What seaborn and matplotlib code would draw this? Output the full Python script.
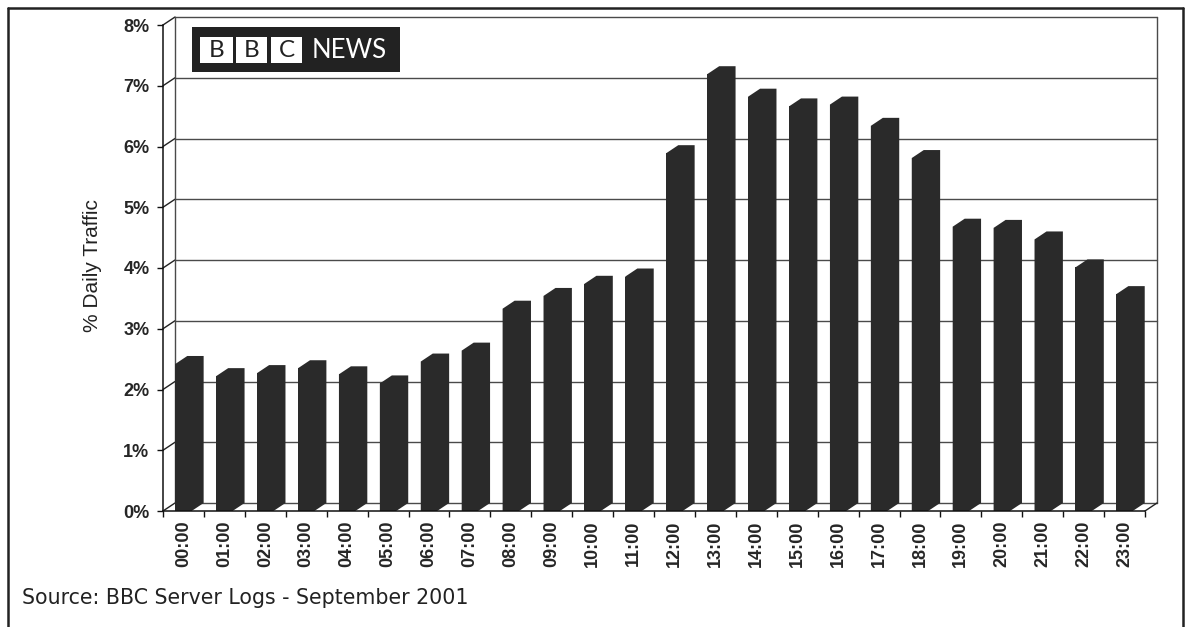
import numpy as np
import pandas as pd
import seaborn as sns
import matplotlib.pyplot as plt
from matplotlib.patches import Polygon, Rectangle
from matplotlib.lines import Line2D

# Hourly share of daily page traffic
hours = ["00:00", "01:00", "02:00", "03:00", "04:00", "05:00", "06:00", "07:00",
         "08:00", "09:00", "10:00", "11:00", "12:00", "13:00", "14:00", "15:00",
         "16:00", "17:00", "18:00", "19:00", "20:00", "21:00", "22:00", "23:00"]
traffic = [2.42, 2.22, 2.27, 2.35, 2.25, 2.10, 2.46, 2.64,
           3.33, 3.54, 3.74, 3.86, 5.89, 7.19, 6.82, 6.66,
           6.69, 6.34, 5.81, 4.68, 4.66, 4.47, 4.01, 3.57]
y_ticks = [0, 1, 2, 3, 4, 5, 6, 7, 8]
y_tick_labels = ["0%", "1%", "2%", "3%", "4%", "5%", "6%", "7%", "8%"]

W, H = 1185, 627
BAR = "#2a2a2a"
GRID = "#4a4a4a"

sns.set_theme(style="white")
plt.rcParams["font.family"] = ["Liberation Sans", "DejaVu Sans"]

fig = plt.figure(figsize=(W / 100, H / 100), dpi=100)
fig.patch.set_facecolor("white")


def fx(x):
    return x / W


def fy(y):
    return 1 - y / H


# front plane of the 3-D box
left_px, right_px, top_px, bottom_px = 163, 1145, 25, 511
ax = fig.add_axes([fx(left_px), fy(bottom_px), fx(right_px - left_px), (bottom_px - top_px) / H])
ax.set_facecolor("none")

df = pd.DataFrame({"hour": hours, "traffic": traffic})
sns.barplot(data=df, x="hour", y="traffic", color=BAR, width=0.4, saturation=1,
            edgecolor="none", linewidth=0, ax=ax, zorder=3)
ax.set_xlim(-0.5, 23.5)
ax.set_ylim(0, 8)

# depth offset of the box (12 px right, 8 px up) in data units
dx = 12 / ((right_px - left_px) / 24)
dy = 8 / ((bottom_px - top_px) / 8)

# back wall gridlines, side wall and floor edges
line_kw = dict(color=GRID, lw=1, clip_on=False, zorder=1)
for k in y_ticks:
    ax.plot([-0.5 + dx, 23.5 + dx], [k + dy, k + dy], **line_kw)
    ax.plot([-0.5, -0.5 + dx], [k, k + dy], color="#222222", lw=1, clip_on=False, zorder=1)
ax.plot([-0.5 + dx, -0.5 + dx], [dy, 8 + dy], **line_kw)
ax.plot([23.5 + dx, 23.5 + dx], [dy, 8 + dy], **line_kw)
ax.plot([23.5, 23.5 + dx], [0, dy], color="#222222", lw=1, clip_on=False, zorder=4)

# extrude every bar backwards so it reads as a solid column
for p in ax.patches:
    x0 = p.get_x()
    x1 = x0 + p.get_width()
    h = p.get_height()
    ax.add_patch(Polygon([(x0, 0), (x0, h), (x0 + dx, h + dy), (x1 + dx, h + dy),
                          (x1 + dx, dy), (x1, 0)], closed=True, facecolor=BAR,
                         edgecolor="none", clip_on=False, zorder=3))

for side in ["top", "right"]:
    ax.spines[side].set_visible(False)
for side in ["left", "bottom"]:
    ax.spines[side].set_color("#111111")
    ax.spines[side].set_linewidth(1.1)
    ax.spines[side].set_zorder(5)

tick_font = dict(family="Liberation Sans", weight="bold", size=13)
ax.set_yticks(y_ticks)
ax.set_yticklabels(y_tick_labels, **tick_font)
ax.tick_params(axis="y", direction="out", length=4.3, width=1, color="#111111", pad=5.5, left=True)

ax.set_xticks(range(len(hours)))
ax.set_xticklabels(hours, rotation=90, **tick_font)
ax.set_xticks(np.arange(-0.5, 24, 1), minor=True)
ax.tick_params(axis="x", which="major", length=0, pad=7)
ax.tick_params(axis="x", which="minor", direction="out", length=4.3, width=1,
               color="#111111", bottom=True)
ax.set_xlabel("")
ax.set_ylabel("")
ax.grid(False)

fig.text(fx(93), fy(266), "% Daily Traffic", rotation=90, ha="center", va="center",
         family="Liberation Sans", size=15, color="#222222")

fig.text(fx(22), fy(598), "Source: BBC Server Logs - September 2001", ha="left", va="center",
         family="DejaVu Sans", size=14.8, color="#222222")

# outer frame
for xs, ys in [((8, 1183), (8, 8)), ((8, 8), (8, 627)), ((1183, 1183), (8, 627))]:
    fig.add_artist(Line2D([fx(v) for v in xs], [fy(v) for v in ys], color="#222222", lw=1.8))

# BBC NEWS badge
fig.add_artist(Rectangle((fx(192), fy(72)), fx(208), 45 / H, facecolor="#222222",
                         edgecolor="none", transform=fig.transFigure))
for x0, w, letter in [(200, 33, "B"), (236, 31, "B"), (271, 31, "C")]:
    fig.add_artist(Rectangle((fx(x0), fy(63)), fx(w), 26 / H, facecolor="white",
                             edgecolor="none", transform=fig.transFigure))
    fig.text(fx(x0 + w / 2), fy(50.5), letter, ha="center", va="center",
             family="Lato", size=17.5, color="#222222")
fig.text(fx(312), fy(50.5), "NEWS", ha="left", va="center", family="Lato", size=18.5, color="white")

fig.savefig("out.png", dpi=100, facecolor="white")
